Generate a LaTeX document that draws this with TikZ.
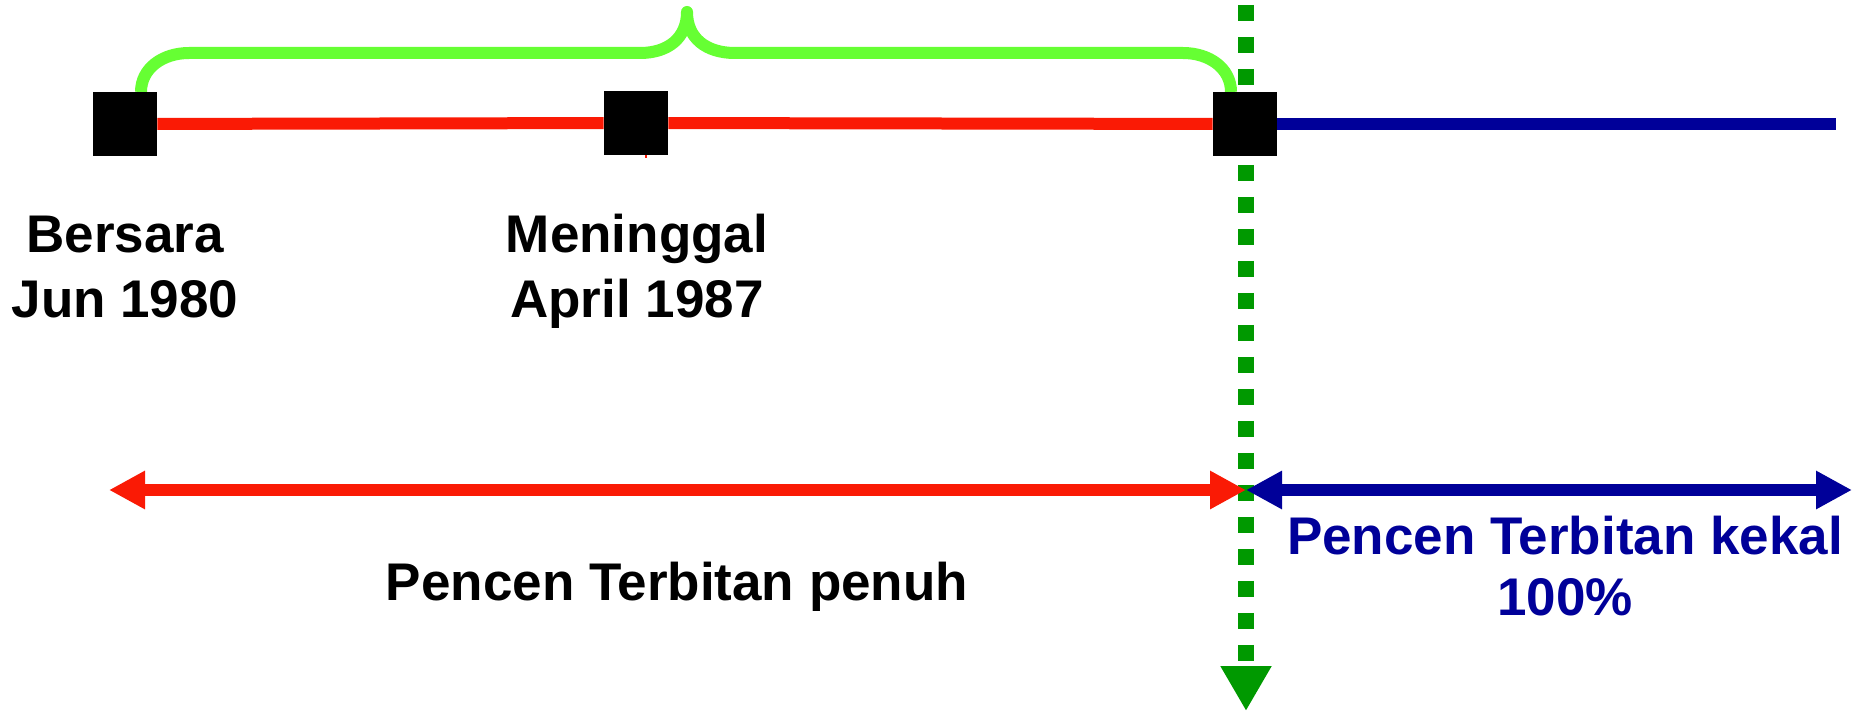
\documentclass[tikz,border=0pt]{standalone}
\usepackage{fontspec}
\setmainfont{Liberation Sans}
\usetikzlibrary{arrows.meta}

\definecolor{penred}{RGB}{250,26,5}
\definecolor{penblue}{RGB}{0,0,153}
\definecolor{bracegreen}{RGB}{102,255,51}
\definecolor{dotgreen}{RGB}{0,153,0}

\begin{document}
\begin{tikzpicture}[x=0.5pt,y=-0.5pt,
    datebox/.style={fill=black,inner sep=0pt,minimum size=32pt},
    lbl/.style={font=\bfseries\fontsize{26.5}{32.5}\selectfont,align=center,anchor=base,inner sep=0pt},
    span/.style={line width=6pt,{Triangle[length=18pt,width=18pt]}-{Triangle[length=18pt,width=18pt]}}]
            % Define the heights of the lines
            \def\ly{124}  % time line
            \def\ay{490}  % arrows
            \def\gx{1246} % green divider

            \useasboundingbox (0,0) rectangle (1855,711);

            % Calculate the coordinates of the points
            \coordinate (G0) at (\gx, 0);
            \coordinate (G1) at (\gx, 711);
            \coordinate (E1) at (1836, \ly);
            \coordinate (R0) at (109, \ay);
            \coordinate (R1) at (\gx, \ay);
            \coordinate (B1) at (1852, \ay);

            % Draw the green divider
            \draw[dotgreen,line width=8pt,dash pattern=on 8pt off 8pt,dash phase=13.6pt,
                  -{Triangle[length=22.5pt,width=24pt]}] (G0) -- (G1);

            % Draw the brace
            \draw[bracegreen,line width=6pt,line join=round]
                (141,92) .. controls (141,68) and (163,53) .. (189,53) -- (640,53)
                .. controls (668,53) and (687,38) .. (687,12)
                .. controls (687,38) and (706,53) .. (735,53) -- (1183,53)
                .. controls (1209,53) and (1231,68) .. (1231,92);

            % Draw the time line
            \draw[penred,line width=1pt] (646,\ly) -- (646,158);
            \node[datebox] (s1) at (125, \ly) {};
            \node[datebox] (s2) at (636, 123) {};
            \node[datebox] (s3) at (1245, \ly) {};
            \draw[penred,line width=6pt] (s1) -- (s2);
            \draw[penred,line width=6pt] (s2) -- (s3);
            \draw[penblue,line width=6pt] (s3) -- (E1);

            % Draw the pension spans
            \draw[span,penred] (R0) -- (R1);
            \draw[span,penblue] (R1) -- (B1);

            % Labels (base = last line)
            \node[lbl] (t1) at (125, 317) {Bersara\\Jun 1980};
            \node[lbl] (t2) at (637, 317) {Meninggal\\April 1987};
            \node[lbl] (t3) at (677, 600) {Pencen Terbitan penuh};
            \node[lbl,penblue,font=\bfseries\fontsize{26.5}{30.5}\selectfont] (t4) at (1565, 615) {Pencen Terbitan kekal\\100\%};
\end{tikzpicture}
\end{document}
